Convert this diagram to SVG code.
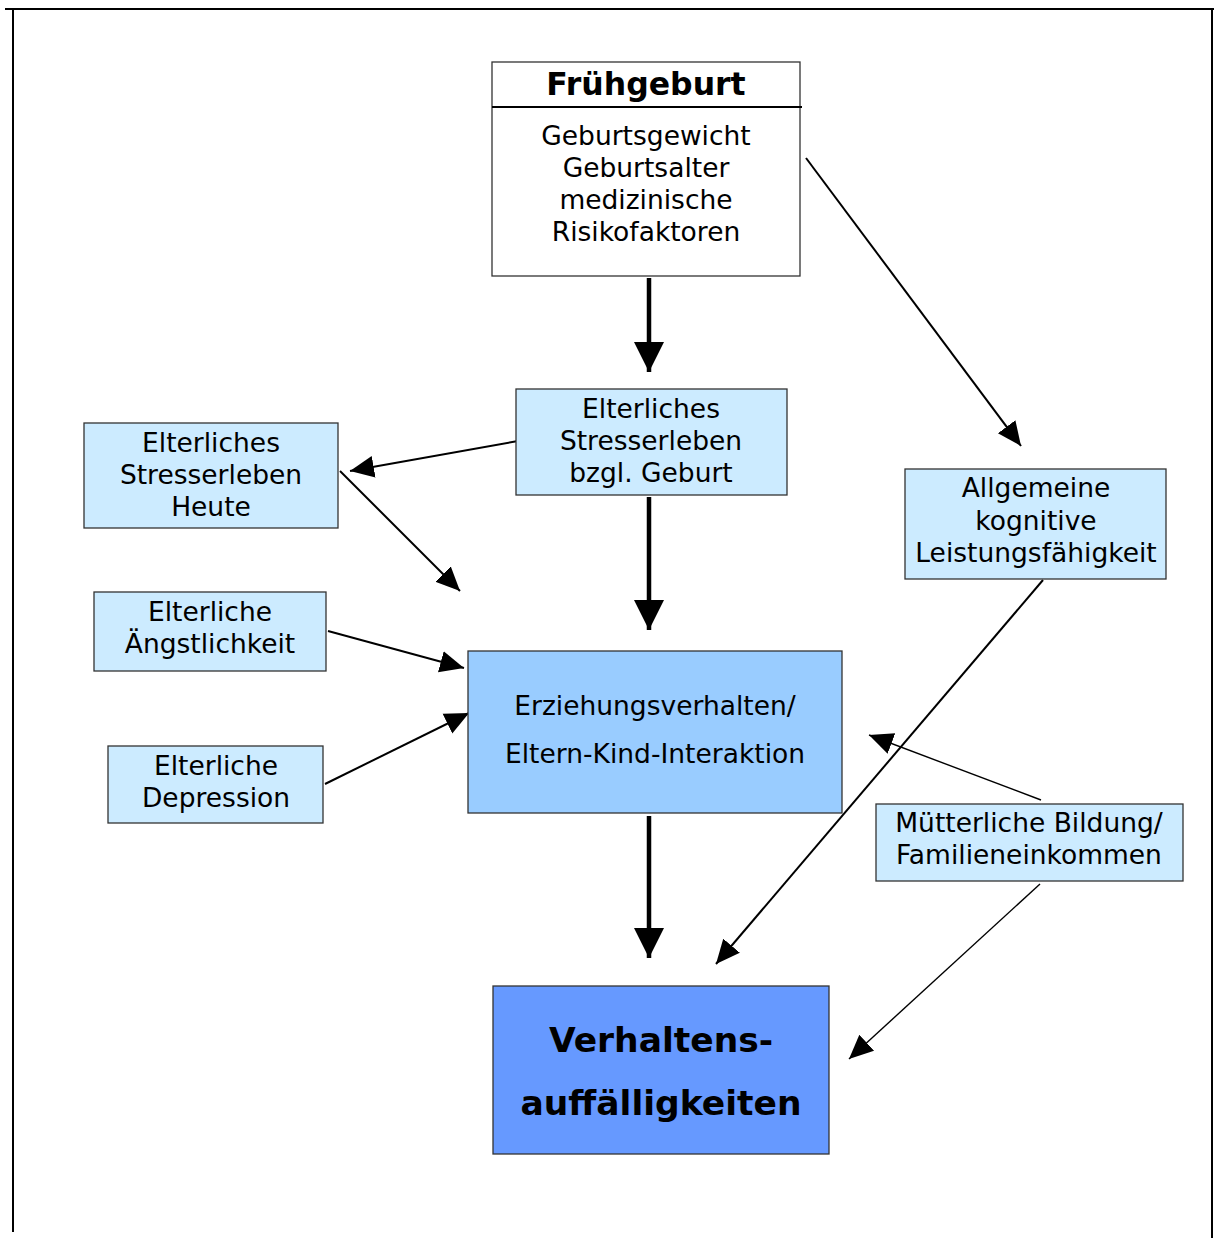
<svg xmlns="http://www.w3.org/2000/svg" width="1214" height="1238" viewBox="0 0 1214 1238">
<defs>
<style>
text{font-family:"DejaVu Sans","Verdana",sans-serif;font-size:26.5px;fill:#000;text-anchor:middle}
.b{font-weight:bold}
.box{stroke:#333;stroke-width:1.3}
.lb{fill:#CCEBFF}
.thick{stroke:#000;stroke-width:4.5;fill:none}
.thin{stroke:#000;stroke-width:2;fill:none}
.hair{stroke:#000;stroke-width:1.4;fill:none}
</style>
<marker id="big" markerUnits="userSpaceOnUse" markerWidth="30" markerHeight="30" refX="26" refY="13" orient="auto" viewBox="0 0 26 26"><path d="M0,0 L26,13 L0,26 z" fill="#000"/></marker>
<marker id="sm" markerUnits="userSpaceOnUse" markerWidth="24" markerHeight="24" refX="22" refY="10" orient="auto" viewBox="0 0 22 20"><path d="M0,0 L22,10 L0,20 z" fill="#000"/></marker>
</defs>
<rect width="1214" height="1238" fill="#fff"/>
<g id="frame" fill="none" stroke="#000" stroke-width="2">
<line x1="5" y1="9" x2="1214" y2="9"/>
<line x1="13" y1="9" x2="13" y2="1232"/>
<line x1="1212" y1="9" x2="1212" y2="1238"/>
</g>
<g id="connectors">
<line class="thick" x1="649" y1="278" x2="649" y2="372" marker-end="url(#big)"/>
<line class="thick" x1="649" y1="497" x2="649" y2="630" marker-end="url(#big)"/>
<line class="thick" x1="649" y1="816" x2="649" y2="958" marker-end="url(#big)"/>
<line class="thin" x1="806" y1="158" x2="1021" y2="446" marker-end="url(#sm)"/>
<line class="thin" x1="518" y1="441" x2="350" y2="471" marker-end="url(#sm)"/>
<line class="thin" x1="340" y1="471" x2="460" y2="591" marker-end="url(#sm)"/>
<line class="thin" x1="328" y1="631" x2="464" y2="668" marker-end="url(#sm)"/>
<line class="thin" x1="325" y1="784" x2="469" y2="713" marker-end="url(#sm)"/>
<line class="thin" x1="1043" y1="580" x2="716" y2="964" marker-end="url(#sm)"/>
<line class="hair" x1="1041" y1="800" x2="869" y2="735" marker-end="url(#sm)"/>
<line class="hair" x1="1040" y1="884" x2="849" y2="1059" marker-end="url(#sm)"/>
</g>
<g id="fruehgeburt">
<rect class="box" x="492" y="62" width="308" height="214" fill="#fff"/>
<line x1="492" y1="107" x2="802" y2="107" stroke="#000" stroke-width="2"/>
<text class="b" x="646" y="95" style="font-size:31.5px">Frühgeburt</text>
<text x="646" y="145">Geburtsgewicht</text>
<text x="646" y="177">Geburtsalter</text>
<text x="646" y="209">medizinische</text>
<text x="646" y="241">Risikofaktoren</text>
</g>
<g id="stress-geburt">
<rect class="box lb" x="516" y="389" width="271" height="106"/>
<text x="651" y="418">Elterliches</text>
<text x="651" y="450">Stresserleben</text>
<text x="651" y="482">bzgl. Geburt</text>
</g>
<g id="stress-heute">
<rect class="box lb" x="84" y="423" width="254" height="105"/>
<text x="211" y="452">Elterliches</text>
<text x="211" y="484">Stresserleben</text>
<text x="211" y="516">Heute</text>
</g>
<g id="aengstlichkeit">
<rect class="box lb" x="94" y="592" width="232" height="79"/>
<text x="210" y="621">Elterliche</text>
<text x="210" y="653">Ängstlichkeit</text>
</g>
<g id="depression">
<rect class="box lb" x="108" y="746" width="215" height="77"/>
<text x="216" y="775">Elterliche</text>
<text x="216" y="807">Depression</text>
</g>
<g id="erziehung">
<rect class="box" x="468" y="651" width="374" height="162" fill="#99CCFF"/>
<text x="655" y="715">Erziehungsverhalten/</text>
<text x="655" y="763">Eltern-Kind-Interaktion</text>
</g>
<g id="kognitiv">
<rect class="box lb" x="905" y="469" width="261" height="110"/>
<text x="1036" y="497">Allgemeine</text>
<text x="1036" y="530">kognitive</text>
<text x="1036" y="562">Leistungsfähigkeit</text>
</g>
<g id="bildung">
<rect class="box lb" x="876" y="804" width="307" height="77"/>
<text x="1029" y="832">Mütterliche Bildung/</text>
<text x="1029" y="864">Familieneinkommen</text>
</g>
<g id="verhalten">
<rect class="box" x="493" y="986" width="336" height="168" fill="#6699FF"/>
<text class="b" x="661" y="1052" style="font-size:34.5px">Verhaltens-</text>
<text class="b" x="661" y="1115" style="font-size:34.5px">auffälligkeiten</text>
</g>
</svg>
